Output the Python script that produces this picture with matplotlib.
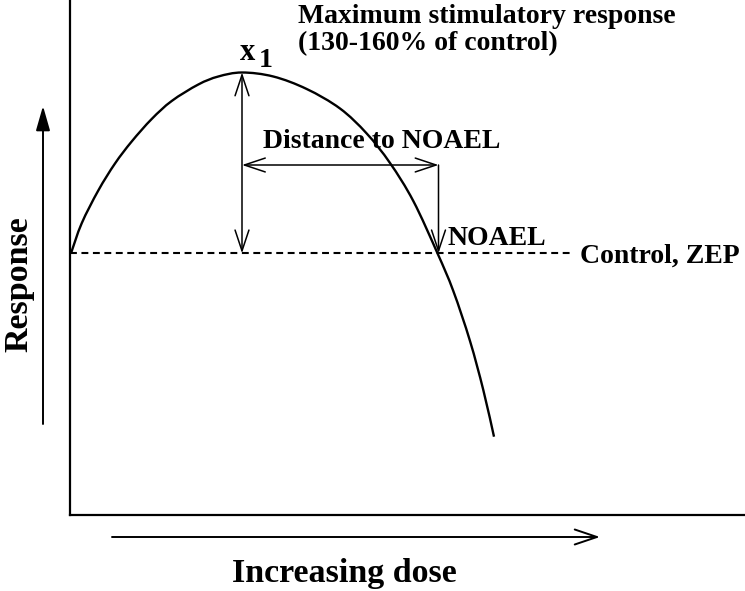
import matplotlib
matplotlib.use("Agg")
import matplotlib.pyplot as plt
from matplotlib.patches import FancyArrowPatch, ArrowStyle, PathPatch
from matplotlib.path import Path

# ---- data (arbitrary units) ----
dose = [1, 11.7, 28.3, 45, 61.7, 81.7, 101.7, 128.3, 148.3, 172, 203.3, 236.7,
        270, 296.7, 320, 343.3, 367.5, 383.3, 400, 413.3, 424]
response = [261.7, 291.7, 324.5, 351.5, 373.5, 396, 414, 430.5, 438.5, 442.5,
            438.5, 426, 406.5, 381.5, 352, 314, 261.7, 224, 174, 125, 78.3]
control_level = 261.7
peak_dose, peak_response = 172, 442.5
noael_dose = 368.5
distance_level = 350

W, H = 745, 591
fig = plt.figure(figsize=(W / 100, H / 100), dpi=100)
plt.rcParams['font.family'] = ['Liberation Serif', 'DejaVu Serif']

ax = fig.add_axes([70 / W, 1 - 515 / H, 675 / W, 515 / H])
ax.set_xlim(0, 675)
ax.set_ylim(0, 515)
for s in ['top', 'right']:
    ax.spines[s].set_visible(False)
for s in ['left', 'bottom']:
    ax.spines[s].set_linewidth(1.6)
ax.set_xticks([])
ax.set_yticks([])

# smooth curve drawn through the read points (Catmull-Rom rendered as Bezier path)
pts = list(zip(dose, response))
verts = [pts[0]]
codes = [Path.MOVETO]
n = len(pts)
for i in range(n - 1):
    p0 = pts[i - 1] if i > 0 else pts[i]
    p1 = pts[i]
    p2 = pts[i + 1]
    p3 = pts[i + 2] if i + 2 < n else pts[i + 1]
    c1 = (p1[0] + (p2[0] - p0[0]) / 6, p1[1] + (p2[1] - p0[1]) / 6)
    c2 = (p2[0] - (p3[0] - p1[0]) / 6, p2[1] - (p3[1] - p1[1]) / 6)
    verts += [c1, c2, p2]
    codes += [Path.CURVE4] * 3
ax.add_patch(PathPatch(Path(verts, codes), facecolor='none', edgecolor='black',
                       lw=1.7, clip_on=False))

ax.plot([0, 502], [control_level, control_level], color='black', lw=1.5,
        linestyle=(0, (3.3, 2.2)))

def arrow(a, b, style, hl, hw, lw=1.1, axes=ax):
    p = FancyArrowPatch(a, b, arrowstyle=ArrowStyle(style, head_length=hl, head_width=hw),
                        mutation_scale=1, color='black', lw=lw, shrinkA=0, shrinkB=0,
                        clip_on=False)
    axes.add_patch(p)

arrow((peak_dose, control_level), (peak_dose, peak_response), '<->', 15, 5)
arrow((peak_dose, distance_level), (noael_dose, distance_level), '<->', 15, 5)
arrow((noael_dose, distance_level), (noael_dose, control_level), '->', 15, 5)

# overlay in pixel coordinates for labels
ov = fig.add_axes([0, 0, 1, 1])
ov.set_xlim(0, W)
ov.set_ylim(H, 0)
ov.axis('off')

arrow((43, 424), (43, 106), '-|>', 15, 4.3, lw=1.4, axes=ov)
arrow((112, 537), (600, 537), '->', 16, 5.4, lw=1.4, axes=ov)

bold = dict(fontweight='bold', color='black')
ov.text(19, 284, 'Response', rotation=90, ha='center', va='center', fontsize=24.5, **bold)
ov.text(232, 582, 'Increasing dose', ha='left', va='baseline', fontsize=24.5, **bold)
ov.text(298, 23, 'Maximum stimulatory response', ha='left', va='baseline', fontsize=20, **bold)
ov.text(298, 50, '(130-160% of control)', ha='left', va='baseline', fontsize=20, **bold)
ov.text(240, 60, 'x', ha='left', va='baseline', fontsize=22, **bold)
ov.text(259, 67, '1', ha='left', va='baseline', fontsize=20, **bold)
ov.text(263, 148, 'Distance to NOAEL', ha='left', va='baseline', fontsize=20, **bold)
ov.text(448, 245, 'NOAEL', ha='left', va='baseline', fontsize=20, **bold)
ov.text(580, 263, 'Control, ZEP', ha='left', va='baseline', fontsize=20, **bold)

fig.savefig('out.png', dpi=100)
